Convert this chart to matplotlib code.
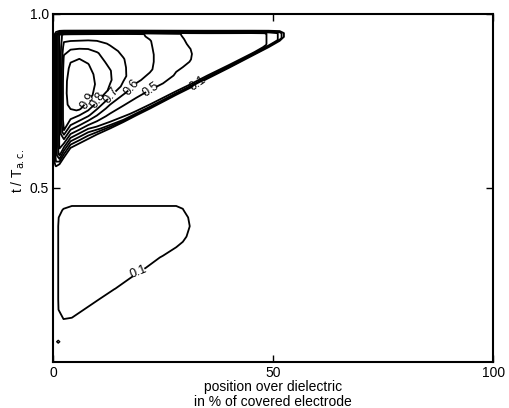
import numpy as np
import matplotlib.pyplot as plt

plt.rcParams['font.family'] = ['Liberation Sans', 'DejaVu Sans']

# upper pattern: columns along x, rows as fraction between lower edge and top edge
top_x = [0, 0.7, 1.5, 2.5, 4, 6, 8, 10, 13, 16, 19, 22, 25, 28, 31, 35, 40, 45, 49, 51.5, 53]
top_lower = [0.558, 0.560, 0.568, 0.587, 0.614, 0.627, 0.640, 0.654, 0.673, 0.693, 0.713,
             0.732, 0.752, 0.772, 0.791, 0.818, 0.850, 0.883, 0.909, 0.926, 0.937]
top_upper = 0.945   # where the top band starts
band_top = 0.954    # field is zero above this
below_gap = 0.007   # field is zero this far below the lower edge
top_s = [0.01, 0.04, 0.08, 0.14, 0.22, 0.31, 0.40, 0.50, 0.60, 0.70, 0.80, 0.89, 0.955, 0.985]

# one list per column of top_x: zero row, top_s rows, zero row
top_z = [
    [0] * 16,
    [0, 0.12, 0.2, 0.245, 0.245, 0.245, 0.245, 0.245, 0.245, 0.245, 0.245, 0.245, 0.245, 0.245, 0.245, 0],
    [0, 0.15, 0.3, 0.45, 0.525, 0.525, 0.525, 0.525, 0.525, 0.525, 0.525, 0.525, 0.525, 0.525, 0.525, 0],
    [0, 0.14, 0.24, 0.39, 0.58, 0.80, 0.875, 0.875, 0.875, 0.875, 0.86, 0.82, 0.74, 0.67, 0.66, 0],
    [0, 0.13, 0.23, 0.37, 0.55, 0.75, 0.89, 0.92, 0.935, 0.93, 0.915, 0.88, 0.75, 0.67, 0.66, 0],
    [0, 0.13, 0.23, 0.36, 0.54, 0.73, 0.905, 0.935, 0.95, 0.945, 0.92, 0.89, 0.75, 0.67, 0.66, 0],
    [0, 0.13, 0.22, 0.35, 0.52, 0.71, 0.87, 0.92, 0.935, 0.93, 0.905, 0.86, 0.75, 0.67, 0.66, 0],
    [0, 0.15, 0.28, 0.41, 0.52, 0.66, 0.79, 0.88, 0.89, 0.88, 0.85, 0.81, 0.73, 0.67, 0.66, 0],
    [0, 0.2, 0.36, 0.43, 0.49, 0.57, 0.68, 0.78, 0.81, 0.805, 0.77, 0.73, 0.69, 0.66, 0.65, 0],
    [0, 0.3, 0.39, 0.44, 0.48, 0.53, 0.61, 0.68, 0.72, 0.715, 0.705, 0.68, 0.665, 0.65, 0.645, 0],
    [0, 0.33, 0.41, 0.44, 0.47, 0.51, 0.56, 0.61, 0.63, 0.64, 0.64, 0.635, 0.63, 0.62, 0.62, 0],
    [0, 0.34, 0.41, 0.44, 0.47, 0.495, 0.54, 0.58, 0.61, 0.615, 0.615, 0.61, 0.605, 0.59, 0.585, 0],
    [0, 0.35, 0.41, 0.44, 0.47, 0.49, 0.52, 0.54, 0.56, 0.565, 0.565, 0.56, 0.555, 0.55, 0.545, 0],
    [0, 0.36, 0.41, 0.44, 0.46, 0.48, 0.495, 0.505, 0.515, 0.52, 0.52, 0.52, 0.515, 0.51, 0.51, 0],
    [0, 0.36, 0.41, 0.44, 0.46, 0.475, 0.485, 0.495, 0.503, 0.505, 0.502, 0.495, 0.49, 0.485, 0.48, 0],
    [0, 0.36, 0.41, 0.44, 0.455, 0.46, 0.465, 0.47, 0.47, 0.47, 0.47, 0.465, 0.46, 0.46, 0.455, 0],
    [0, 0.36, 0.41, 0.43, 0.44, 0.445, 0.45, 0.45, 0.45, 0.45, 0.45, 0.45, 0.45, 0.445, 0.44, 0],
    [0, 0.35, 0.41, 0.42, 0.43, 0.435, 0.435, 0.435, 0.435, 0.435, 0.435, 0.435, 0.435, 0.435, 0.43, 0],
    [0, 0.3, 0.36, 0.39, 0.395, 0.395, 0.395, 0.395, 0.395, 0.395, 0.395, 0.395, 0.395, 0.395, 0.39, 0],
    [0, 0.2, 0.25, 0.28, 0.28, 0.28, 0.28, 0.28, 0.28, 0.28, 0.28, 0.28, 0.28, 0.28, 0.27, 0],
    [0] * 16,
]

# lower pattern on a plain grid
low_x = [0, 2.4, 4.3, 9, 14, 20, 25, 28, 29.5, 31, 32.5]
low_y = [0.09, 0.12, 0.15, 0.18, 0.21, 0.24, 0.27, 0.30, 0.33, 0.36, 0.39, 0.415, 0.436, 0.46]
low_z = [
    [0] * 14,
    [0, 0.09, 0.19, 0.2, 0.2, 0.2, 0.2, 0.2, 0.2, 0.2, 0.2, 0.183, 0.113, 0.033],
    [0, 0.077, 0.177, 0.2, 0.2, 0.2, 0.2, 0.2, 0.2, 0.2, 0.2, 0.2, 0.14, 0.06],
    [0, 0, 0.043, 0.143, 0.2, 0.2, 0.2, 0.2, 0.2, 0.2, 0.2, 0.2, 0.14, 0.06],
    [0, 0, 0, 0, 0.102, 0.2, 0.2, 0.2, 0.2, 0.2, 0.2, 0.2, 0.14, 0.06],
    [0, 0, 0, 0, 0, 0.027, 0.127, 0.2, 0.2, 0.2, 0.2, 0.2, 0.14, 0.06],
    [0, 0, 0, 0, 0, 0, 0, 0.083, 0.183, 0.2, 0.2, 0.2, 0.14, 0.06],
    [0, 0, 0, 0, 0, 0, 0, 0, 0.102, 0.2, 0.2, 0.2, 0.14, 0.06],
    [0, 0, 0, 0, 0, 0, 0, 0, 0.05, 0.15, 0.2, 0.183, 0.113, 0.033],
    [0, 0, 0, 0, 0, 0, 0, 0, 0, 0.06, 0.105, 0.08, 0, 0],
    [0] * 14,
]

# tiny spot near the left edge
spot_x = [0.5, 1.2, 1.9]
spot_y = [0.05, 0.058, 0.066]
spot_z = [[0, 0, 0], [0, 0.2, 0], [0, 0, 0]]

plain_levels = [0.2, 0.3, 0.4]
label_levels = [0.1, 0.5, 0.6, 0.7, 0.8, 0.9]
label_spots = [(33, 0.80), (22.5, 0.78), (18, 0.79), (13.5, 0.765), (10.5, 0.75), (8, 0.75)]

tx = np.array(top_x)
tl = np.array(top_lower)
ts = np.array(top_s)[:, None]
TY = np.vstack([tl - below_gap,
                tl[None, :] + ts * (top_upper - tl[None, :]),
                np.full(len(tx), band_top)])
TX = np.tile(tx, (TY.shape[0], 1))
TZ = np.array(top_z).T

fig = plt.figure(figsize=(5.09, 4.08), dpi=100)
ax = fig.add_axes([0.104, 0.113, 0.865, 0.853])

lw = 1.3
ax.contour(TX, TY, TZ, levels=plain_levels, colors='k', linewidths=lw)
cs = ax.contour(TX, TY, TZ, levels=label_levels, colors='k', linewidths=lw)
ax.clabel(cs, fmt='%.1f', fontsize=9, inline=True, inline_spacing=3, manual=label_spots)

cs2 = ax.contour(low_x, low_y, np.array(low_z).T, levels=[0.1], colors='k', linewidths=lw)
ax.clabel(cs2, fmt='%.1f', fontsize=9, inline=True, inline_spacing=3, manual=[(19.5, 0.255)])

ax.contour(spot_x, spot_y, np.array(spot_z).T, levels=[0.1], colors='k', linewidths=1.0)

ax.set_xlim(0, 100)
ax.set_ylim(0, 1.0)
ax.set_xticks([0, 50, 100])
ax.set_xticklabels(['0', '50', '100'])
ax.set_yticks([0.5, 1.0])
ax.set_yticklabels(['0.5', '1.0'])
ax.tick_params(direction='in', length=5, width=1, top=True, right=True, labelsize=10, pad=3)
for sp in ax.spines.values():
    sp.set_linewidth(1.5)

ax.set_xlabel('position over dielectric\nin % of covered electrode', fontsize=10, labelpad=0, linespacing=1.1)
ax.set_ylabel(r't / T$_{\mathrm{a.c.}}$', fontsize=10)
ax.yaxis.set_label_coords(-0.06, 0.55)

fig.savefig('out.png', dpi=100)
